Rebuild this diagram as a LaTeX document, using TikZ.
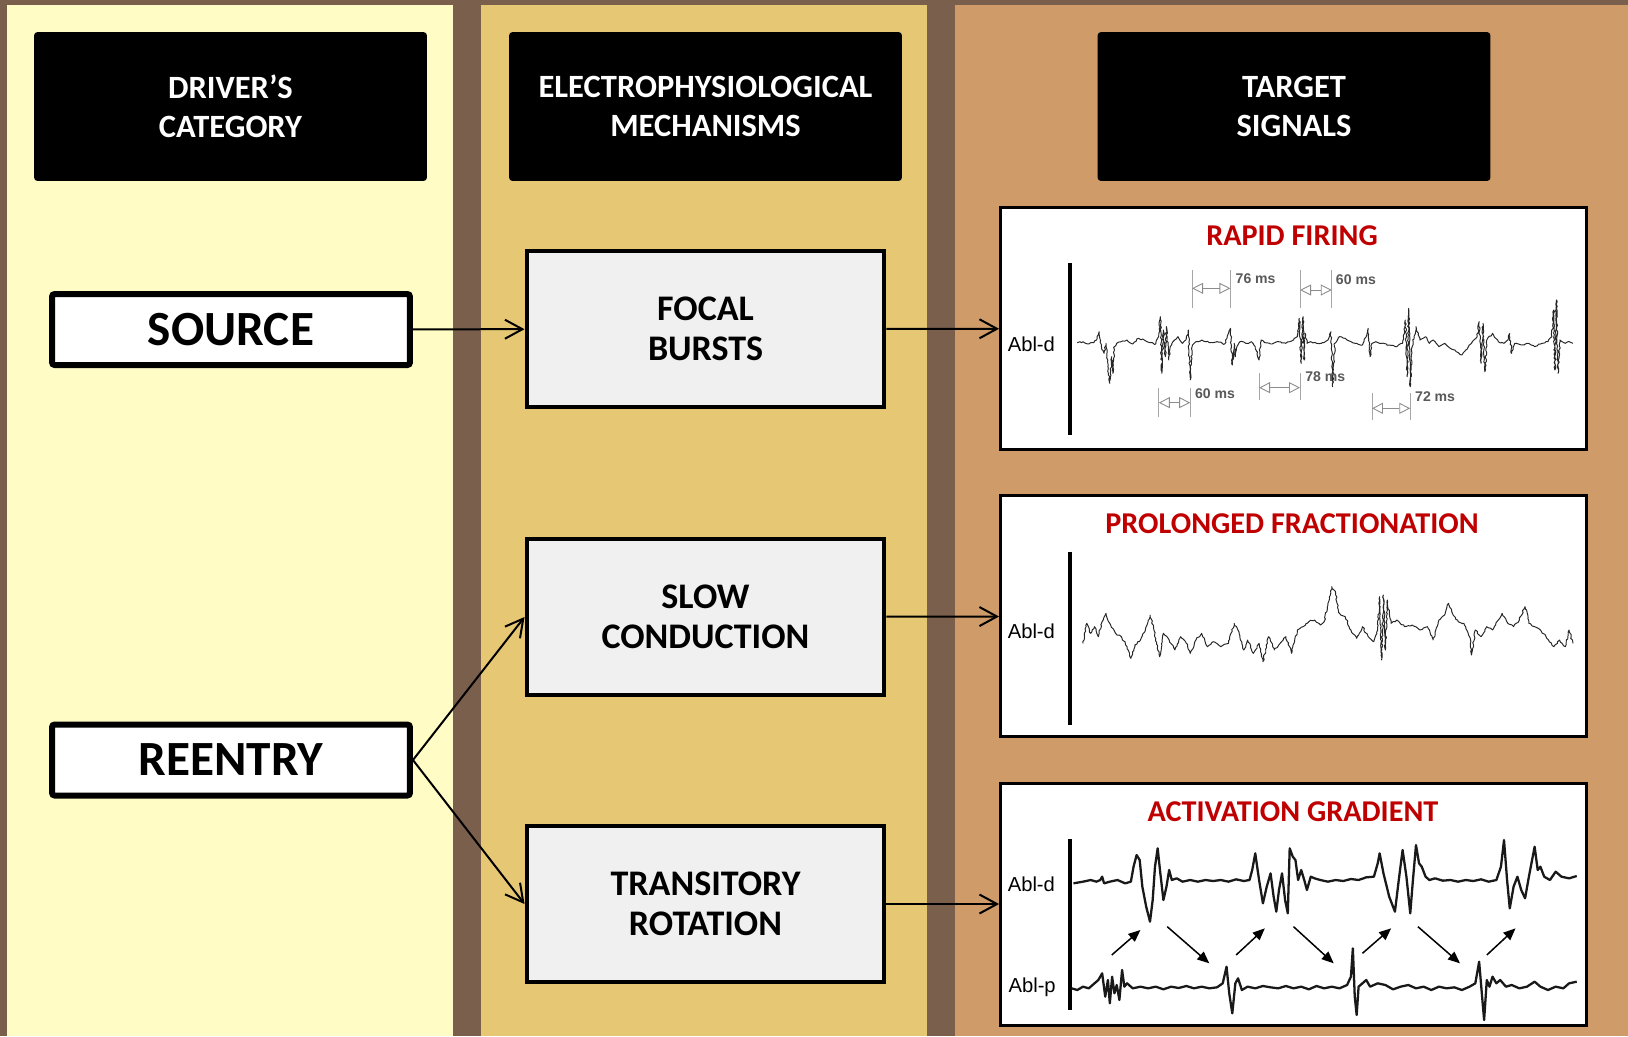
\documentclass[tikz,border=0pt]{standalone}
\usepackage{fontspec}
\setmainfont{Carlito}
\newfontfamily\tracefont{Liberation Sans}
\usetikzlibrary{positioning,arrows.meta,decorations.pathmorphing}

\definecolor{framebrown}{HTML}{7B5F4D}
\definecolor{driveryellow}{HTML}{FFFDC5}
\definecolor{mechgold}{HTML}{E6C774}
\definecolor{targettan}{HTML}{CE9B69}
\definecolor{boxgrey}{HTML}{F0F0F0}
\definecolor{titlered}{HTML}{C00000}

\begin{document}
\pgfmathsetseed{4217}
\begin{tikzpicture}[x=0.02cm, y=-0.02cm,
header/.style={rectangle, rounded corners=2pt, fill=black, text=white, align=center, minimum width=7.86cm, minimum height=2.98cm, font=\fontsize{18.5}{22}\selectfont\bfseries},
driver_box/.style={rectangle, rounded corners=1.5pt, draw=black, fill=white, line width=0.12cm, inner sep=0pt, minimum width=7.16cm, minimum height=1.42cm, font=\fontsize{28}{32}\selectfont\bfseries},
mech_box/.style={rectangle, draw=black, fill=boxgrey, line width=0.08cm, align=center, minimum width=7.16cm, minimum height=3.12cm, font=\fontsize{20.5}{23}\selectfont\bfseries},
signal_box/.style={rectangle, draw=black, fill=white, line width=0.06cm, minimum width=11.72cm, minimum height=4.84cm},
signal_title/.style={text=titlered, font=\fontsize{17.2}{20}\selectfont\bfseries},
lead_label/.style={font=\tracefont\fontsize{11.5}{13}\selectfont},
interval_text/.style={anchor=west, text=black!65, font=\tracefont\fontsize{8}{10}\selectfont\bfseries, inner sep=0pt},
out_arrow/.style={-{Straight Barb[length=0.35cm, width=0.38cm]}, line width=0.04cm},
trace/.style={line width=0.55pt, line join=round, black!85, decorate, decoration={random steps, segment length=1.2pt, amplitude=0.45pt}},
thick_trace/.style={line width=1.3pt, line join=round, black!90},
lead_bar/.style={line width=0.08cm},
interval/.style={black!35, line width=0.5pt},
interval_arrow/.style={{Triangle[open, length=0.22cm, width=0.22cm]}-{Triangle[open, length=0.22cm, width=0.22cm]}, black!45, line width=0.5pt},
gradient_arrow/.style={-{Triangle[length=0.24cm, width=0.2cm]}, line width=0.03cm}
]

% panels
\fill[framebrown] (0,0) rectangle (1628,1036);
\fill[driveryellow] (7,5) rectangle (453,1036);
\fill[mechgold] (481,5) rectangle (927,1036);
\fill[targettan] (955,5) rectangle (1628,1036);

% column headers
\node[header] (driver_head) at (230.5,106.5) {DRIVER’S\\CATEGORY};
\node[header] (mech_head) at (705.5,106.5) {ELECTROPHYSIOLOGICAL\\MECHANISMS};
\node[header] (target_head) at (1294,106.5) {TARGET\\SIGNALS};

\node[driver_box] (source) at (231,329.5) {SOURCE};
\node[driver_box] (reentry) at (231,760) {REENTRY};

\node[mech_box] (focal) at (705.5,329) {FOCAL\\BURSTS};
\node[mech_box] (slow) at (705.5,617) {SLOW\\CONDUCTION};
\node[mech_box] (transitory) at (705.5,904) {TRANSITORY\\ROTATION};

\node[signal_box] (rapid) at (1293.5,328.5) {};
\node[signal_box] (prolonged) at (1293.5,616) {};
\node[signal_box] (gradient) at (1293.5,904) {};

\node[signal_title] (rapid_title) at (1292,236) {RAPID FIRING};
\node[signal_title] (prolonged_title) at (1292,524) {PROLONGED FRACTIONATION};
\node[signal_title] (gradient_title) at (1293,812) {ACTIVATION GRADIENT};

\draw[out_arrow] (source) -- (focal);
\draw[out_arrow] (focal) -- (rapid);
\draw[out_arrow] (reentry.east) -- (slow.west);
\draw[out_arrow] (reentry.east) -- (transitory.west);
\draw[out_arrow] (slow) -- (prolonged);
\draw[out_arrow] (transitory) -- (gradient);

% rapid firing trace
\begin{scope}[shift={(995,200)}, xscale=0.3827, yscale=0.3333]
\draw[lead_bar] (197,190) -- (197,705);
\node[lead_label] (rapid_lead) at (95,432) {Abl-d};
\draw[trace] plot coordinates {(215,428) (230,425) (245,432) (258,428) (265,420) (272,395) (278,440) (285,460) (290,430) (295,500) (300,550) (305,470) (308,520) (312,440) (318,430) (330,425) (345,420) (360,432) (375,415) (390,420) (405,428) (420,432) (428,400) (432,350) (436,520) (440,390) (445,470) (448,380) (450,410) (454,480) (458,440) (465,425) (478,410) (490,430) (500,415) (505,390) (510,540) (515,440) (525,425) (540,420) (560,428) (580,425) (600,432) (610,400) (615,385) (620,495) (625,430) (628,470) (632,440) (640,425) (655,430) (670,425) (680,440) (690,480) (695,420) (705,428) (720,432) (740,425) (760,430) (780,420) (790,410) (795,355) (800,490) (805,350) (808,480) (810,400) (815,430) (825,425) (840,430) (855,428) (870,420) (878,395) (882,560) (888,430) (900,410) (915,415) (930,425) (945,430) (960,435) (970,410) (975,385) (980,470) (985,430) (995,425) (1010,430) (1030,435) (1050,440) (1065,430) (1072,360) (1077,530) (1081,325) (1085,560) (1090,440) (1100,380) (1110,420) (1125,410) (1135,430) (1145,420) (1160,440) (1175,430) (1190,445) (1205,455) (1220,465) (1230,450) (1245,430) (1260,410) (1265,365) (1270,490) (1275,370) (1280,515) (1285,420) (1300,400) (1315,425) (1330,430) (1340,420) (1345,400) (1350,460) (1358,430) (1375,435) (1390,430) (1410,440) (1430,430) (1445,425) (1455,410) (1460,330) (1463,510) (1467,300) (1471,520) (1476,420) (1490,430) (1500,425) (1510,430)};
% intervals above
\draw[interval] (515,210) -- (515,325) (615,210) -- (615,325);
\draw[interval_arrow] (515,265) -- (615,265);
\node[interval_text] (int_a) at (628,235) {76 ms};
\draw[interval] (797,210) -- (797,325) (880,210) -- (880,325);
\draw[interval_arrow] (797,270) -- (880,270);
\node[interval_text] (int_b) at (890,238) {60 ms};
% intervals below
\draw[interval] (428,565) -- (428,650) (510,565) -- (510,650);
\draw[interval_arrow] (428,608) -- (510,608);
\node[interval_text] (int_c) at (522,580) {60 ms};
\draw[interval] (690,520) -- (690,600) (797,520) -- (797,600);
\draw[interval_arrow] (690,563) -- (797,563);
\node[interval_text] (int_d) at (810,530) {78 ms};
\draw[interval] (985,580) -- (985,660) (1085,580) -- (1085,660);
\draw[interval_arrow] (985,625) -- (1085,625);
\node[interval_text] (int_e) at (1097,590) {72 ms};
\end{scope}

% prolonged fractionation trace
\begin{scope}[shift={(995,490)}, xscale=0.3827, yscale=0.3333]
\draw[lead_bar] (197,185) -- (197,705);
\node[lead_label] (prolonged_lead) at (95,425) {Abl-d};
\draw[trace] plot coordinates {(230,460) (240,400) (250,430) (260,410) (270,440) (280,395) (290,370) (300,400) (315,430) (330,440) (345,470) (355,505) (365,465) (380,450) (395,410) (405,375) (415,420) (430,500) (440,430) (455,450) (470,480) (485,440) (500,460) (510,490) (525,450) (540,430) (555,470) (570,455) (590,470) (610,460) (625,400) (635,420) (650,480) (660,450) (675,490) (690,460) (700,515) (715,440) (730,480) (745,460) (760,440) (775,490) (790,420) (805,410) (820,395) (835,390) (850,405) (860,395) (870,340) (880,290) (890,310) (900,370) (915,380) (930,420) (945,445) (960,410) (975,440) (990,455) (1000,420) (1005,320) (1010,510) (1015,315) (1020,480) (1025,330) (1035,400) (1050,390) (1070,410) (1090,405) (1110,420) (1130,410) (1145,450) (1160,390) (1175,375) (1185,340) (1195,370) (1210,395) (1225,400) (1240,440) (1245,495) (1255,420) (1270,440) (1285,410) (1300,420) (1315,390) (1325,370) (1340,400) (1355,410) (1370,390) (1385,350) (1395,400) (1410,410) (1425,420) (1440,440) (1460,470) (1475,450) (1490,470) (1500,420) (1510,460)};
\end{scope}

% activation gradient traces
\begin{scope}[shift={(995,780)}, xscale=0.3827, yscale=0.3333]
\draw[lead_bar] (197,178) -- (197,690);
\node[lead_label] (gradient_lead_d) at (95,312) {Abl-d};
\node[lead_label] (gradient_lead_p) at (97,622) {Abl-p};
\draw[thick_trace] plot coordinates {(205,310) (230,305) (250,300) (265,305) (275,300) (280,290) (285,310) (300,305) (320,300) (340,310) (355,305) (362,260) (370,225) (378,240) (385,320) (395,380) (405,425) (412,360) (418,260) (425,205) (432,280) (440,360) (448,320) (455,270) (462,300) (475,295) (490,305) (510,300) (530,305) (550,300) (570,303) (590,300) (610,305) (630,298) (650,303) (665,300) (672,270) (680,220) (690,300) (700,370) (710,320) (720,280) (728,350) (735,395) (742,330) (750,280) (758,360) (765,400) (770,205) (778,230) (785,240) (792,300) (800,270) (808,300) (815,330) (825,290) (835,295) (850,300) (870,305) (890,300) (910,303) (930,297) (950,300) (970,292) (990,290) (1000,250) (1005,220) (1015,280) (1030,350) (1045,395) (1055,300) (1065,210) (1075,290) (1085,400) (1092,300) (1100,195) (1108,250) (1115,260) (1125,290) (1135,300) (1150,295) (1170,302) (1190,300) (1210,305) (1230,300) (1250,303) (1270,298) (1290,305) (1310,300) (1322,260) (1330,180) (1338,300) (1345,385) (1355,320) (1365,290) (1375,330) (1385,355) (1395,290) (1405,230) (1410,200) (1418,270) (1425,260) (1435,290) (1450,300) (1465,275) (1480,290) (1500,295) (1520,288)};
\draw[thick_trace] plot coordinates {(200,625) (215,630) (230,620) (245,625) (260,610) (270,600) (280,580) (288,650) (295,600) (300,670) (306,590) (312,640) (318,615) (325,660) (332,570) (338,620) (345,610) (360,625) (380,620) (400,625) (420,620) (440,628) (460,620) (480,624) (500,618) (520,625) (540,620) (560,625) (580,622) (595,610) (605,560) (612,640) (620,700) (628,610) (635,595) (645,630) (660,620) (680,625) (700,618) (720,622) (740,625) (760,618) (780,625) (800,620) (820,628) (840,618) (860,625) (880,620) (900,625) (920,615) (930,590) (935,505) (940,650) (945,705) (950,620) (960,610) (970,600) (980,620) (1000,610) (1020,615) (1040,628) (1060,620) (1080,615) (1100,625) (1120,620) (1140,630) (1160,620) (1180,625) (1200,622) (1220,630) (1240,620) (1255,610) (1265,545) (1272,640) (1278,720) (1285,600) (1292,620) (1300,590) (1310,610) (1320,600) (1335,620) (1350,615) (1370,625) (1390,620) (1410,605) (1425,620) (1445,630) (1465,620) (1485,625) (1500,610) (1520,605)};
% propagation arrows
\draw[gradient_arrow] (305,525) -- (380,450);
\draw[gradient_arrow] (450,440) -- (560,550);
\draw[gradient_arrow] (630,525) -- (705,445);
\draw[gradient_arrow] (780,440) -- (885,550);
\draw[gradient_arrow] (960,520) -- (1035,445);
\draw[gradient_arrow] (1105,440) -- (1215,550);
\draw[gradient_arrow] (1285,525) -- (1360,445);
\end{scope}

\end{tikzpicture}
\end{document}
